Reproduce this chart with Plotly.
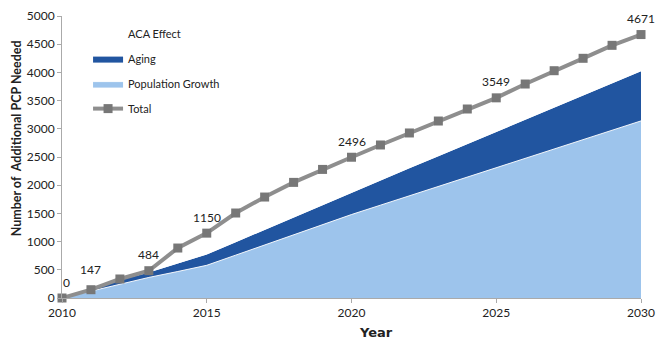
import plotly.graph_objects as go

years = list(range(2010, 2031))
population_growth = [0, 120, 245, 365, 470, 580, 760, 940, 1120, 1300, 1480,
                     1646, 1812, 1978, 2144, 2310, 2476, 2642, 2808, 2974, 3140]
aging_top = [0, 147, 320, 450, 610, 770, 990, 1210, 1430, 1650, 1870,
             2085, 2300, 2515, 2730, 2945, 3160, 3375, 3590, 3805, 4020]
total = [0, 147, 337, 484, 886, 1150, 1507, 1790, 2050, 2280, 2496,
         2713, 2926, 3138, 3351, 3549, 3794, 4030, 4250, 4480, 4671]
label_years = [2010, 2011, 2013, 2015, 2020, 2025, 2030]

aging = [a - p for a, p in zip(aging_top, population_growth)]
aca_effect = [t - a for t, a in zip(total, aging_top)]

FONT = "Lato, 'Open Sans', sans-serif"

fig = go.Figure()
fig.add_trace(go.Scatter(
    x=years, y=population_growth, name="Population Growth", stackgroup="s",
    mode="lines", line=dict(color="rgba(255,255,255,0.9)", width=1),
    fillcolor="#9dc4ec", legendgroup="c", legendrank=3))
fig.add_trace(go.Scatter(
    x=years, y=aging, name="Aging", stackgroup="s",
    mode="lines", line=dict(color="#2155a0", width=0),
    fillcolor="#2155a0", legendgroup="b", legendrank=2))
fig.add_trace(go.Scatter(
    x=years, y=aca_effect, name="ACA Effect", stackgroup="s",
    mode="lines", line=dict(color="white", width=0),
    fillcolor="rgba(255,255,255,1)", legendgroup="a", legendrank=1))
fig.add_trace(go.Scatter(
    x=years, y=total, name="Total", mode="lines+markers",
    line=dict(color="#8e8e8e", width=4),
    marker=dict(symbol="square", size=9, color="#777777"),
    legendgroup="d", legendrank=4, cliponaxis=False))

annotations = []
for yr, t in zip(years, total):
    if yr in label_years:
        annotations.append(dict(
            x=yr, y=t, xref="x", yref="y", text=str(t), showarrow=False,
            yshift=20 if yr == 2011 else 16, xshift=4 if yr == 2010 else 0,
            font=dict(family=FONT, size=12, color="#222")))

annotations += [
    dict(text="<b>Year</b>", xref="paper", yref="paper", x=0.542, y=-0.124,
         xanchor="center", yanchor="middle", showarrow=False,
         font=dict(size=13, family="DejaVu Sans, sans-serif", color="#222")),
    dict(text="<b>Number of  Additional PCP Needed</b>", xref="paper", yref="paper",
         x=-0.079, y=0.567, xanchor="center", yanchor="middle", textangle=-90,
         showarrow=False, font=dict(size=12.5, family=FONT, color="#222")),
]

fig.update_layout(
    width=656, height=342,
    margin=dict(l=62, r=15, t=16, b=44),
    paper_bgcolor="white", plot_bgcolor="white",
    font=dict(family=FONT, size=12, color="#222"),
    showlegend=True,
    legend=dict(x=0.045, y=0.989, xanchor="left", yanchor="top",
                bgcolor="rgba(0,0,0,0)", font=dict(size=11, color="#222"),
                tracegroupgap=6, itemwidth=30),
    xaxis=dict(range=[2010, 2030], tickvals=[2010, 2015, 2020, 2025, 2030],
               showgrid=False, zeroline=False, showline=True, linecolor="#aaaaaa",
               linewidth=1, ticks="outside", ticklen=4, tickcolor="#aaaaaa",
               tickfont=dict(size=12, family=FONT), automargin=False),
    yaxis=dict(range=[0, 5000], dtick=500, showgrid=False, zeroline=False,
               showline=True, linecolor="#aaaaaa", linewidth=1, ticks="outside",
               ticklen=4, tickcolor="#aaaaaa", tickfont=dict(size=12, family=FONT),
               automargin=False),
    annotations=annotations,
)

fig.write_html("out.html", config={"displayModeBar": False},
               post_script="document.body.style.margin='0';document.body.style.overflow='hidden';")
